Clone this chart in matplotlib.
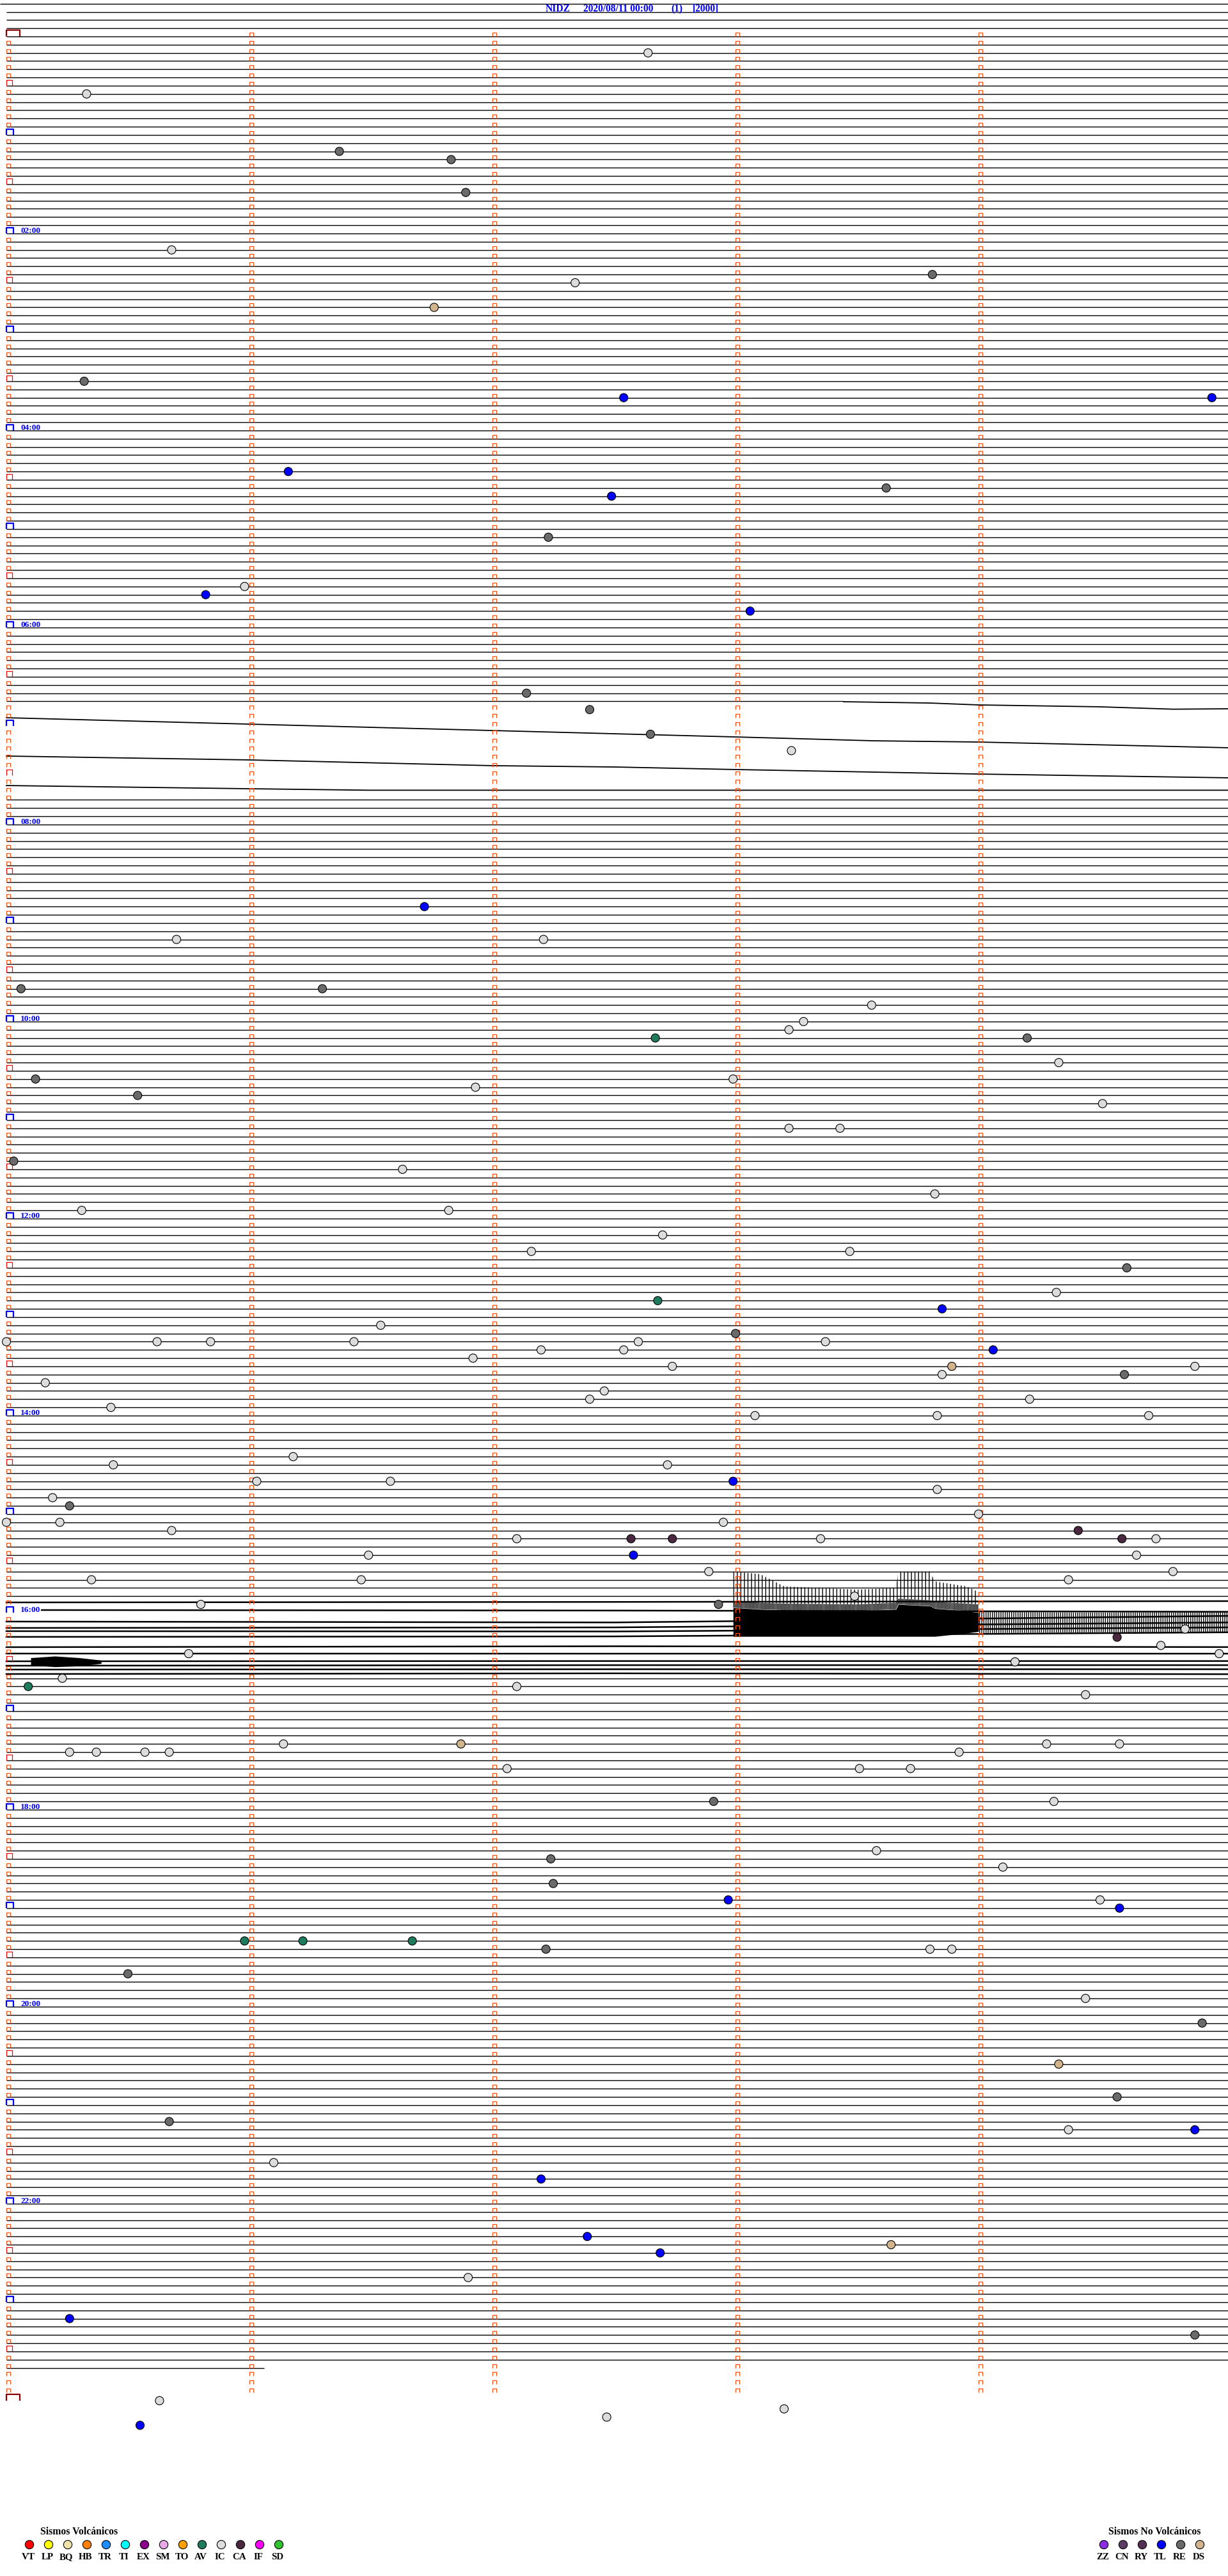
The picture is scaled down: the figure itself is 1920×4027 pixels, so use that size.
import matplotlib
matplotlib.use("Agg")
import matplotlib.pyplot as plt
import numpy as np
from matplotlib.collections import LineCollection

# ---------------- data ----------------
station = "NIDZ"
start_label = "2020/08/11 00:00"
scale_a = "(1)"
scale_b = "[2000]"

minutes_per_row = 5
rows_per_day = 288
data_end_minute = 1421.06          # last sample of the day (23:41)
hour_labels = ["02:00", "04:00", "06:00", "08:00", "10:00", "12:00",
               "14:00", "16:00", "18:00", "20:00", "22:00"]

volc_codes = ["VT", "LP", "BQ", "HB", "TR", "TI", "EX", "SM", "TO", "AV", "IC", "CA", "IF", "SD"]
volc_colors = ["#FF0000", "#FFFF00", "#EEE3A8", "#FF8000", "#1E8CFF", "#00FFFF", "#8B008B",
               "#E8A8E8", "#FFA000", "#1E7B5E", "#DCDCDC", "#4A2840", "#FF00FF", "#30C030"]
nonvolc_codes = ["ZZ", "CN", "RY", "TL", "RE", "DS"]
nonvolc_colors = ["#8A2BE2", "#5A3C64", "#553055", "#0000FF", "#6A6A6A", "#D2B48C"]

# event times (minutes after 00:00) and types
event_minutes = [
    12.64, 35.33, 71.37, 76.83, 96.89, 130.68, 148.81, 152.34, 166.76, 210.32,
    222.54, 224.96, 266.16, 278.62, 282.49, 307.23, 335.98, 340.82, 353.06, 402.14,
    412.40, 427.65, 438.23, 531.72, 550.70, 552.21, 580.06, 581.30, 593.56, 603.28,
    608.22, 612.67, 614.20, 629.33, 635.12, 637.99, 645.54, 641.93, 654.51, 668.22,
    668.43, 685.03, 691.63, 708.82, 715.31, 716.82, 732.70, 742.16, 743.47, 754.61,
    769.32, 772.68, 778.85, 786.54, 793.00, 795.00, 795.62, 795.84, 796.43, 797.60,
    798.37, 804.06, 802.20, 802.54, 806.92, 812.74, 813.89, 818.85, 819.60, 814.89,
    820.16, 827.46, 832.40, 834.21, 835.43, 843.08, 843.83, 844.70, 866.18, 870.44,
    872.72, 881.03, 881.58, 882.99, 888.83, 890.19, 895.26, 905.00, 905.22, 904.00,
    910.68, 907.95, 914.41, 917.10, 917.57, 917.74, 918.35, 919.59, 919.73, 927.58,
    926.49, 929.65, 937.89, 940.35, 941.46, 944.37, 939.80, 957.93, 955.80, 953.49,
    974.85, 979.57, 984.75, 989.99, 985.75, 994.15, 1000.23, 1005.09, 1007.10, 1014.44,
    1041.14, 1041.87, 1044.28, 1044.58, 1045.26, 1045.37, 1045.57, 1045.67, 1048.92, 1057.06,
    1058.51, 1058.72, 1077.91, 1079.31, 1108.58, 1112.24, 1119.10, 1127.25, 1137.97, 1139.50,
    1144.58, 1160.98, 1161.22, 1161.67, 1167.22, 1168.80, 1168.89, 1180.50, 1199.44, 1214.92,
    1239.33, 1259.57, 1270.67, 1279.37, 1279.89, 1296.10, 1307.20, 1342.39, 1348.64, 1352.69,
    1366.90, 1390.26, 1404.89, 1440.63, 1452.47, 1448.20, 1455.55,
]
event_types = [
    "IC", "IC", "RE", "RE", "RE", "IC", "RE", "IC", "DS", "RE",
    "TL", "TL", "TL", "RE", "TL", "RE", "IC", "TL", "TL", "RE",
    "RE", "RE", "IC", "TL", "IC", "IC", "RE", "RE", "IC", "IC",
    "IC", "AV", "RE", "IC", "RE", "IC", "RE", "IC", "IC", "IC",
    "IC", "RE", "IC", "IC", "IC", "IC", "IC", "IC", "IC", "RE",
    "IC", "AV", "TL", "IC", "RE", "IC", "IC", "IC", "IC", "IC",
    "IC", "TL", "IC", "IC", "IC", "IC", "DS", "IC", "RE", "IC",
    "IC", "IC", "IC", "IC", "IC", "IC", "IC", "IC", "IC", "IC",
    "IC", "IC", "IC", "TL", "IC", "IC", "RE", "IC", "IC", "IC",
    "IC", "IC", "CA", "IC", "CA", "CA", "IC", "CA", "IC", "TL",
    "IC", "IC", "IC", "IC", "IC", "IC", "IC", "RE", "IC", "IC",
    "IC", "CA", "IC", "IC", "IC", "IC", "IC", "AV", "IC", "IC",
    "IC", "DS", "IC", "IC", "IC", "IC", "IC", "IC", "IC", "IC",
    "IC", "IC", "RE", "IC", "IC", "RE", "IC", "RE", "TL", "IC",
    "TL", "AV", "AV", "AV", "RE", "IC", "IC", "RE", "IC", "RE",
    "DS", "RE", "RE", "IC", "TL", "IC", "TL", "TL", "DS", "TL",
    "IC", "TL", "RE", "IC", "IC", "IC", "TL",
]

# rows whose trace is not a flat line (drawn from the traces below)
gap_rows_a = list(range(82, 93))
gap_rows_b = list(range(191, 200))

# wavy traces around 06:40-07:40 (x = minute within row, y = row position)
trace_a_x = [0.0, 1.0, 2.0, 2.5, 3.0, 3.57, 4.0, 5.03]
trace_a_y = [82.99, 83.77, 84.55, 84.94, 85.33, 85.80, 85.95, 86.65]
trace_b_x = [0.0, 1.0, 2.0, 2.5, 3.0, 4.0, 5.03]
trace_b_y = [87.66, 88.13, 88.83, 88.99, 89.30, 89.85, 90.31]
trace_c_x = [0.0, 1.0, 1.49, 5.03]
trace_c_y = [91.25, 91.64, 91.82, 91.82]
trace_81_x = [3.445, 3.8, 4.0, 4.5, 4.8, 5.03]
trace_81_y = [81.04, 81.2, 81.43, 81.66, 81.95, 81.9]

# wavy traces 15:55-16:40 (row position at start, middle, end)
noisy_trace_y = [
    [190.76, 190.70, 190.60],
    [191.69, 191.75, 191.90],
    [193.09, 193.20, 192.40],
    [193.87, 193.80, 193.20],
    [194.26, 194.30, 193.80],
    [194.96, 194.90, 194.40],
    [196.21, 196.10, 196.20],
    [196.99, 197.00, 197.00],
    [197.93, 197.90, 197.90],
    [198.47, 198.40, 198.40],
    [198.94, 198.90, 198.90],
    [199.48, 199.40, 199.50],
]
noisy_trace_start = [0.0, 0.145, 0.0, 0.0, 0.0, 0.0, 0.0, 0.0, 0.0, 0.0, 0.0, 0.0]
noisy_trace_x = [2.5, 5.03]

# big burst envelope (rows 187-195, minutes 3.0-4.0 of the row)
burst_x = [2.99, 3.1, 3.2, 3.5, 3.66, 3.67, 3.8, 3.82, 3.95, 4.0]
burst_spike_top = [187.0, 187.3, 188.8, 189.2, 189.0, 187.0, 187.0, 188.2, 188.8, 189.5]
burst_body_top = [190.6, 190.8, 190.9, 191.0, 190.8, 190.3, 190.5, 190.7, 190.9, 191.0]
burst_core_top = [191.4, 191.6, 191.7, 191.8, 191.6, 191.0, 191.2, 191.5, 191.8, 192.0]
burst_body_bot = [194.9, 194.9, 194.9, 194.9, 194.9, 194.9, 194.9, 194.9, 194.5, 194.3]
tail_x = [4.0, 4.5, 5.03]
tail_top = [191.9, 192.0, 191.9]
tail_bot = [194.5, 194.4, 194.5]
blob_x = [0.10, 0.2, 0.3, 0.39]
blob_top = [197.5, 197.3, 197.5, 197.8]
blob_bot = [198.4, 198.6, 198.5, 198.2]

# ---------------- layout ----------------
W, H = 1920, 4027
X0, PXM = 10.0, 380.0      # pixel of minute 0, pixels per minute
Y0, PXR = 57.0, 12.833     # pixel of row 0, pixels per row

fig = plt.figure(figsize=(W / 100, H / 100), dpi=100)
fig.patch.set_facecolor("white")
ax = fig.add_axes([0, 0, 1, 1])
ax.set_xlim(-X0 / PXM, (W - X0) / PXM)
ax.set_ylim((H - Y0) / PXR, -Y0 / PXR)
ax.axis("off")
plt.rcParams["hatch.linewidth"] = 1.0

dx = lambda p: p / PXM
dy = lambda p: p / PXR
XMAX = (W - X0) / PXM
last_row = int(data_end_minute // minutes_per_row)
last_x = data_end_minute - last_row * minutes_per_row

# ---- flat trace lines ----
segs = [[(-X0 / PXM, -4), (XMAX, -4)]]
for r in range(-3, last_row + 1):
    if r in gap_rows_a or r in gap_rows_b:
        continue
    xa, xb = 0.0, XMAX
    if r == 81:
        xb = trace_81_x[0]
    if r == last_row:
        xb = last_x
    segs.append([(xa, r), (xb, r)])
ax.add_collection(LineCollection(segs, colors="black", linewidths=1.0, zorder=2))

# ---- wavy traces ----
for tx, ty in [(trace_a_x, trace_a_y), (trace_b_x, trace_b_y),
               (trace_c_x, trace_c_y), (trace_81_x, trace_81_y)]:
    ax.plot(tx, ty, color="black", lw=1.3, zorder=2)

for x0, ty in zip(noisy_trace_start, noisy_trace_y):
    ax.plot([x0] + noisy_trace_x, ty, color="black", lw=1.8, zorder=2)

ax.fill_between(burst_x, burst_spike_top, burst_body_top, facecolor="none",
                edgecolor="black", hatch="|||", linewidth=0, zorder=2)
ax.fill_between(burst_x, burst_body_top, burst_core_top, facecolor="none",
                edgecolor="black", hatch="||||||||", linewidth=0, zorder=2)
ax.fill_between(burst_x, burst_core_top, burst_body_bot, color="black", lw=0, zorder=2)
ax.fill_between(tail_x, tail_top, tail_bot, facecolor="none",
                edgecolor="black", hatch="|||||", linewidth=0, zorder=2)
ax.fill_between(blob_x, blob_top, blob_bot, color="black", lw=0, zorder=2)

# ---- minute markers ----
def bracket(x, r, w, h):
    return [(x, r), (x, r - dy(h)), (x + dx(w), r - dy(h)), (x + dx(w), r)]

small, red30, blue60, day = [], [], [], []
for r in range(0, rows_per_day + 1):
    if r % rows_per_day == 0:
        day.append(bracket(0.0, r, 21, 10))
    elif r % 12 == 0:
        blue60.append(bracket(0.0, r, 11, 9))
    elif r % 6 == 0:
        red30.append(bracket(0.0, r, 9, 9))
    else:
        small.append(bracket(0.0, r, 6, 6))
    if r < rows_per_day:
        for c in range(1, minutes_per_row):
            small.append(bracket(float(c), r, 6, 6))
ax.add_collection(LineCollection(small, colors="#FF5010", linewidths=0.9, zorder=3))
ax.add_collection(LineCollection(red30, colors="#FF0000", linewidths=0.9, zorder=3))
ax.add_collection(LineCollection(blue60, colors="#0000FF", linewidths=1.6, zorder=3))
ax.add_collection(LineCollection(day, colors="#8B0000", linewidths=1.6, zorder=3))

# ---- hour labels ----
for lab in hour_labels:
    r = int(lab[:2]) * 12
    ax.text(dx(22), r - dy(1), lab, color="#0000FF", fontsize=9.6,
            family="Liberation Serif", weight="bold", va="baseline", ha="left", zorder=4)

# ---- events ----
cmap = dict(zip(volc_codes + nonvolc_codes, volc_colors + nonvolc_colors))
ev = np.array(event_minutes)
ev_row = np.floor(ev / minutes_per_row)
ev_x = ev - ev_row * minutes_per_row
ax.scatter(ev_x, ev_row, s=88, c=[cmap[t] for t in event_types],
           edgecolors="black", linewidths=0.8, zorder=5)

# ---- title ----
def ftxt(xp, yp, s, **kw):
    fig.text(xp / W, 1 - yp / H, s, **kw)

tkw = dict(color="#0000FF", fontsize=11.2, family="Liberation Serif", weight="bold", va="baseline")
ftxt(853, 18, station, **tkw)
ftxt(912, 18, start_label, **tkw)
ftxt(1049, 18, scale_a, **tkw)
ftxt(1083, 18, scale_b, **tkw)

# ---- legends ----
lax = fig.add_axes([0, 0, 1, 1])
lax.set_xlim(0, W)
lax.set_ylim(H, 0)
lax.axis("off")
lkw = dict(color="black", family="Liberation Serif", weight="bold")
ftxt(63, 3962, "Sismos Volcánicos", fontsize=11.3, va="baseline", **lkw)
vx = 46 + 30 * np.arange(len(volc_codes))
lax.scatter(vx, np.full(len(vx), 3978), s=92, c=volc_colors, edgecolors="black", linewidths=0.8)
for x, code in zip(vx, volc_codes):
    ftxt(x - 2, 4001, code, fontsize=10.8, ha="center", va="baseline", **lkw)

ftxt(1733, 3962, "Sismos No Volcánicos", fontsize=11.3, va="baseline", **lkw)
nx = 1726 + 30 * np.arange(len(nonvolc_codes))
lax.scatter(nx, np.full(len(nx), 3978), s=92, c=nonvolc_colors, edgecolors="black", linewidths=0.8)
for x, code in zip(nx, nonvolc_codes):
    ftxt(x - 2, 4001, code, fontsize=10.8, ha="center", va="baseline", **lkw)

fig.savefig("out.png", dpi=100, facecolor="white")
